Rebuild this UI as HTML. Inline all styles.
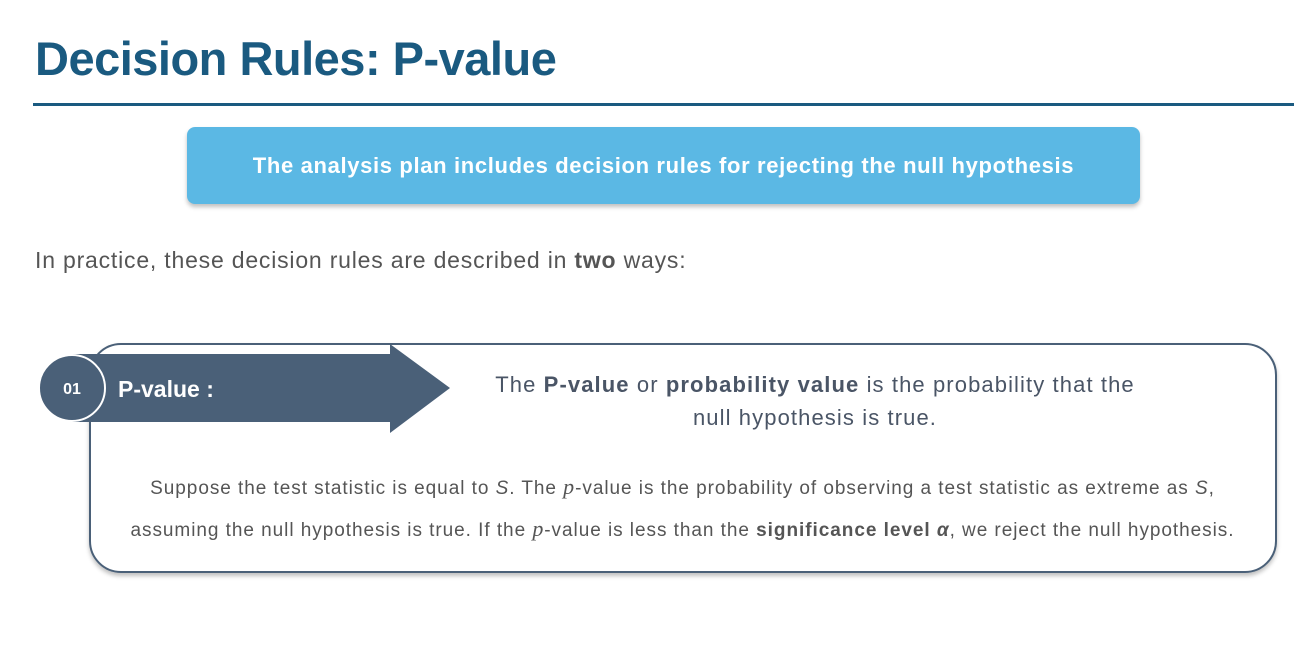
<!DOCTYPE html>
<html><head><meta charset="utf-8"><style>
body{margin:0;width:1308px;height:667px;background:#fff;position:relative;overflow:hidden;font-family:"Liberation Sans",sans-serif;}
.abs{position:absolute;}
</style></head><body>
<div class="abs" style="left:35px;top:31px;font-size:47px;font-weight:bold;color:#1a5a80;letter-spacing:-0.5px;">Decision Rules: P-value</div>
<div class="abs" style="left:33px;top:103px;width:1261px;height:3px;background:#1a5a80;"></div>
<div class="abs" style="left:187px;top:127px;width:953px;height:77px;background:#5bb8e4;border-radius:8px;box-shadow:0 3px 4px rgba(0,0,0,0.25);color:#fff;font-weight:bold;font-size:22px;letter-spacing:0.65px;line-height:77px;text-align:center;">The analysis plan includes decision rules for rejecting the null hypothesis</div>
<div class="abs" style="left:35px;top:247px;font-size:23px;letter-spacing:0.8px;color:#555;">In practice, these decision rules are described in <b>two</b> ways:</div>
<div class="abs" style="left:89px;top:343px;width:1184px;height:226px;border:2.5px solid #4a6078;border-radius:32px;box-shadow:0 3px 4px rgba(0,0,0,0.25);"></div>
<svg class="abs" style="left:0;top:0" width="470" height="450">
<polygon points="72,354 390,354 390,344 450,388 390,433 390,422 72,422" fill="#4a6078"/>
<circle cx="72" cy="388" r="33" fill="#4a6078" stroke="#fff" stroke-width="2"/>
<text x="72" y="394" fill="#fff" font-family="Liberation Sans" font-weight="bold" font-size="16" text-anchor="middle">01</text>
<text x="118" y="397" fill="#fff" font-family="Liberation Sans" font-weight="bold" font-size="23">P-value :</text>
</svg>
<div class="abs" style="left:440px;top:368px;width:750px;text-align:center;font-size:22px;letter-spacing:1.1px;line-height:33px;color:#4a5566;">The <b>P-value</b> or <b>probability value</b> is the probability that the<br>null hypothesis is true.</div>
<div class="abs" style="left:100px;top:467px;width:1165px;text-align:center;font-size:19px;letter-spacing:0.95px;line-height:40px;color:#555;white-space:nowrap;">Suppose the test statistic is equal to <i>S</i>. The <i style="font-family:'Liberation Serif',serif;font-size:22px">p</i>-value is the probability of observing a test statistic as extreme as <i>S</i>,<br>assuming the null hypothesis is true. If the <i style="font-family:'Liberation Serif',serif;font-size:22px">p</i>-value is less than the <b>significance level <i>α</i></b>, we reject the null hypothesis.</div>
</body></html>
